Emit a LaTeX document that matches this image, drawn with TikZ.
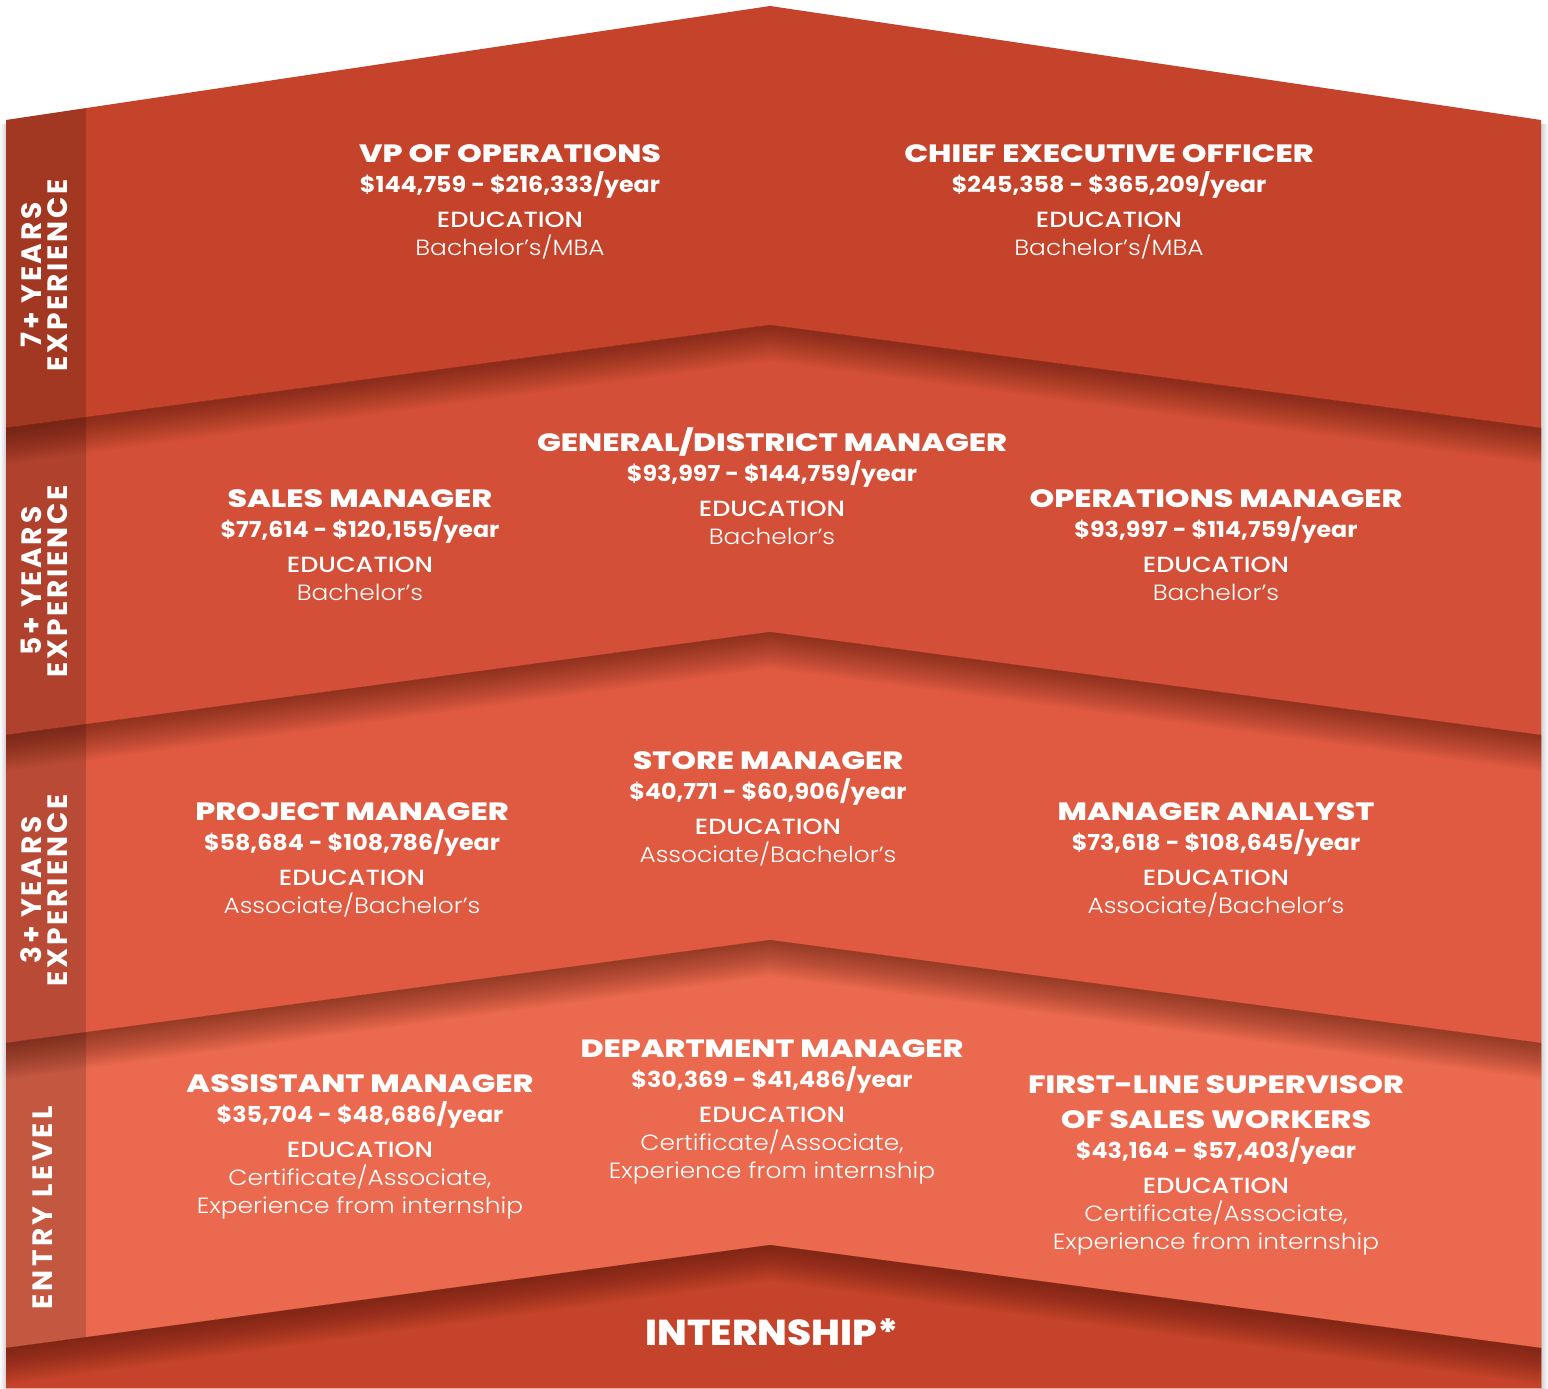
\documentclass[tikz,border=0pt]{standalone}
\usepackage{fontspec}
\setmainfont{Poppins}
\newfontfamily\lightfont{Poppins Light}
\newfontfamily\heavyfont{Poppins ExtraBold}
\newfontfamily\medfont{Poppins Medium}
\usepackage{tikz}

\definecolor{bandone}{HTML}{C4432A}
\definecolor{bandtwo}{HTML}{D44F37}
\definecolor{bandthree}{HTML}{DF5A40}
\definecolor{bandfour}{HTML}{EB694E}
\definecolor{shadowcol}{HTML}{3C0F05}

\tikzset{
  jobtitle/.style={anchor=base,inner sep=0pt,text=white,
    font=\heavyfont\fontsize{12.5}{14}\selectfont\addfontfeatures{FakeStretch=1.26}},
  jobpay/.style={anchor=base,inner sep=0pt,text=white,
    font=\bfseries\fontsize{11}{13}\selectfont\addfontfeatures{FakeStretch=1.08}},
  jobedu/.style={anchor=base,inner sep=0pt,text=white,
    font=\medfont\fontsize{11}{13}\selectfont\addfontfeatures{FakeStretch=1.16}},
  jobdeg/.style={anchor=base,inner sep=0pt,text=white,
    font=\lightfont\fontsize{11}{13}\selectfont\addfontfeatures{FakeStretch=1.13}},
  sidelabel/.style={rotate=90,align=center,inner sep=0pt,text=white,
    font=\bfseries\fontsize{14}{13}\selectfont\addfontfeatures{LetterSpace=10}}
}

\newcommand\jobcard[6]{%
  \node[jobtitle] (#1) at (#2,#3) {#4};
  \node[jobpay] (#1-pay) at (#2,#3+30.5) {#5};
  \node[jobedu] (#1-edu) at (#2,#3+65.5) {EDUCATION};
  \node[jobdeg] (#1-deg) at (#2,#3+93) {#6};
}

\begin{document}
\begin{tikzpicture}[x=0.5pt,y=-0.5pt]
  \fill[white] (0,0) rectangle (1548,1388);
  \useasboundingbox (0,0) rectangle (1548,1388);
  % side shadows
  \shade[left color=white,right color=black!18] (0,124) rectangle (6,1388);
  \shade[left color=black!18,right color=white] (1541,124) rectangle (1548,1388);
  % bands
  \foreach \p/\s/\c in {6/120/bandone,325/428/bandtwo,632/735/bandthree,940/1043/bandfour,1245/1348/bandone}{
  \fill[\c] (6,\s)--(770,\p)--(1541,\s)--(1541,1388)--(6,1388)--cycle;
  }
  % label strip
  \fill[black,opacity=0.17] (6,120)--(86,108.1)--(86,1337.2)--(6,1348)--cycle;
  % shadows under each fold
  \foreach \p/\s in {325/428,632/735,940/1043,1245/1348}{
  \foreach \d in {2,4,...,36}{
  \fill[shadowcol,opacity=0.03] (6,\s)--(770,\p)--(1541,\s)--(1541,\s+\d)--(770,\p+\d)--(6,\s+\d)--cycle;
  }
  }
  % level labels
  \node[sidelabel] (lvlseven) at (44,275) {7+ YEARS\\EXPERIENCE};
  \node[sidelabel] (lvlfive) at (44,581) {5+ YEARS\\EXPERIENCE};
  \node[sidelabel] (lvlthree) at (44,890) {3+ YEARS\\EXPERIENCE};
  \node[sidelabel,font=\bfseries\fontsize{14}{13}\selectfont\addfontfeatures{LetterSpace=12}] (lvlentry) at (43,1208) {ENTRY LEVEL};
  % 7+ years
  \jobcard{vp}{510}{162}{VP OF OPERATIONS}{\$144,759 - \$216,333/year}{Bachelor’s/MBA}
  \jobcard{ceo}{1109}{162}{CHIEF EXECUTIVE OFFICER}{\$245,358 - \$365,209/year}{Bachelor’s/MBA}
  % 5+ years
  \jobcard{gm}{772}{451}{GENERAL/DISTRICT MANAGER}{\$93,997 - \$144,759/year}{Bachelor’s}
  \jobcard{sales}{360}{507}{SALES MANAGER}{\$77,614 - \$120,155/year}{Bachelor’s}
  \jobcard{ops}{1216}{507}{OPERATIONS MANAGER}{\$93,997 - \$114,759/year}{Bachelor’s}
  % 3+ years
  \jobcard{store}{768}{769}{STORE MANAGER}{\$40,771 - \$60,906/year}{Associate/Bachelor’s}
  \jobcard{project}{352}{820}{PROJECT MANAGER}{\$58,684 - \$108,786/year}{Associate/Bachelor’s}
  \jobcard{analyst}{1216}{820}{MANAGER ANALYST}{\$73,618 - \$108,645/year}{Associate/Bachelor’s}
  % entry level
  \jobcard{dept}{772}{1057}{DEPARTMENT MANAGER}{\$30,369 - \$41,486/year}{Certificate/Associate,}
  \node[jobdeg] (dept-deg2) at (772,1057+121) {Experience from internship};
  \jobcard{assist}{360}{1092}{ASSISTANT MANAGER}{\$35,704 - \$48,686/year}{Certificate/Associate,}
  \node[jobdeg] (assist-deg2) at (360,1092+121) {Experience from internship};
  \node[jobtitle] (super-top) at (1216,1093) {FIRST-LINE SUPERVISOR};
  \jobcard{super}{1216}{1128}{OF SALES WORKERS}{\$43,164 - \$57,403/year}{Certificate/Associate,}
  \node[jobdeg] (super-deg2) at (1216,1128+121) {Experience from internship};
  % internship
  \node[jobtitle,font=\heavyfont\fontsize{18}{20}\selectfont\addfontfeatures{FakeStretch=1.08}] (intern) at (772,1345) {INTERNSHIP*};
\end{tikzpicture}
\end{document}
